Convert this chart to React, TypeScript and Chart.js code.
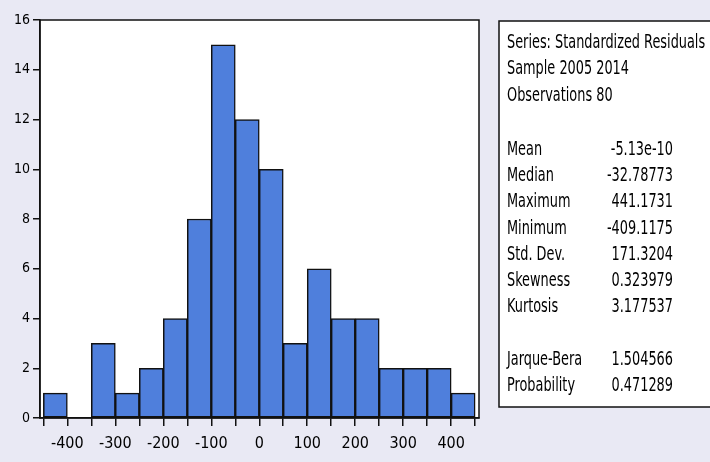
import React, { useEffect, useRef } from "react";
import { Chart, registerables } from "chart.js";

Chart.register(...registerables);

// Histogram bins (lower edges, width 50) and counts
const binLower = [-450, -400, -350, -300, -250, -200, -150, -100, -50, 0, 50, 100, 150, 200, 250, 300, 350, 400];
const binWidth = 50;
const counts = [1, 0, 3, 1, 2, 4, 8, 15, 12, 10, 3, 6, 4, 4, 2, 2, 2, 1];
const xTickEdges = [-450, -400, -350, -300, -250, -200, -150, -100, -50, 0, 50, 100, 150, 200, 250, 300, 350, 400, 450];
const yTicks = [0, 2, 4, 6, 8, 10, 12, 14, 16];

// Stats panel
const headerLines = ["Series: Standardized Residuals", "Sample 2005 2014", "Observations 80"];
const statNames = ["Mean", "Median", "Maximum", "Minimum", "Std. Dev.", "Skewness", "Kurtosis"];
const statValues = ["-5.13e-10", "-32.78773", "441.1731", "-409.1175", "171.3204", "0.323979", "3.177537"];
const testNames = ["Jarque-Bera", "Probability"];
const testValues = ["1.504566", "0.471289"];

const FONT_FAMILY = '"Liberation Sans Narrow", "Arial Narrow", "DejaVu Sans Condensed", sans-serif';
const BG = "#e9e9f4";

const panelPlugin = {
  id: "panelPlugin",
  beforeDraw(chart: any) {
    const { ctx, chartArea } = chart;
    ctx.save();
    ctx.fillStyle = BG;
    ctx.fillRect(0, 0, chart.width, chart.height);
    ctx.fillStyle = "#ffffff";
    ctx.fillRect(chartArea.left, chartArea.top, chartArea.right - chartArea.left, chartArea.bottom - chartArea.top);
    ctx.restore();
  },
  afterDraw(chart: any) {
    const { ctx, chartArea } = chart;
    ctx.save();
    // plot frame
    ctx.strokeStyle = "#111";
    ctx.lineWidth = 1.5;
    ctx.strokeRect(chartArea.left, chartArea.top, chartArea.right - chartArea.left, chartArea.bottom - chartArea.top);

    // stats panel
    const px = 499;
    const py = 21;
    const pw = 230;
    const ph = 386;
    ctx.fillStyle = "#ffffff";
    ctx.fillRect(px, py, pw, ph);
    ctx.strokeRect(px, py, pw, ph);

    ctx.fillStyle = "#000";
    ctx.font = "20px " + FONT_FAMILY;
    ctx.textBaseline = "middle";
    // horizontal compression to match the narrow reference type
    const refW = ctx.measureText("Sample 2005 2014").width;
    const sx = 122 / refW;

    const drawText = (t: string, x: number, y: number, align: "left" | "right") => {
      ctx.save();
      ctx.translate(x, y);
      ctx.scale(sx, 1);
      ctx.textAlign = align;
      ctx.fillText(t, 0, 0);
      ctx.restore();
    };

    const labelX = 507;
    const valueRight = 673;
    const lh = 26.2;
    headerLines.forEach((t, i) => drawText(t, labelX, 43 + i * lh, "left"));
    statNames.forEach((t, i) => {
      drawText(t, labelX, 150 + i * 26.1, "left");
      drawText(statValues[i], valueRight, 150 + i * 26.1, "right");
    });
    testNames.forEach((t, i) => {
      drawText(t, labelX, 360 + i * 25.5, "left");
      drawText(testValues[i], valueRight, 360 + i * 25.5, "right");
    });
    ctx.restore();
  },
};

export default function App() {
  const canvasRef = useRef<HTMLCanvasElement | null>(null);

  useEffect(() => {
    if (!canvasRef.current) return;
    const data = binLower.map((lo, i) => ({ x: lo + binWidth / 2, y: counts[i] }));
    const chart = new Chart(canvasRef.current, {
      type: "bar",
      data: {
        datasets: [
          {
            data: data as any,
            backgroundColor: "#4f7fdc",
            borderColor: "#111",
            borderWidth: 1.5,
            borderSkipped: false,
            barThickness: "flex",
            barPercentage: 1,
            categoryPercentage: 1,
          },
        ],
      },
      options: {
        animation: false,
        responsive: false,
        maintainAspectRatio: false,
        layout: { padding: { left: 0, right: 231, top: 20, bottom: 0 } },
        plugins: { legend: { display: false }, tooltip: { enabled: false } },
        scales: {
          x: {
            type: "linear",
            offset: false,
            min: -457,
            max: 458,
            afterBuildTicks: (axis: any) => {
              axis.ticks = xTickEdges.map((v) => ({ value: v }));
            },
            afterFit: (axis: any) => {
              axis.height = 44;
            },
            ticks: {
              autoSkip: false,
              maxRotation: 0,
              padding: 8,
              color: "#000",
              font: { family: FONT_FAMILY, size: 16 },
              callback: (v: any) => (Number(v) % 100 === 0 ? String(v) : ""),
            },
            grid: { drawOnChartArea: false, drawTicks: true, tickLength: 8, color: "#111", lineWidth: 1.5, offset: false },
            border: { display: true, color: "#111", width: 1.5 },
          },
          y: {
            min: 0,
            max: 16,
            afterBuildTicks: (axis: any) => {
              axis.ticks = yTicks.map((v) => ({ value: v }));
            },
            afterFit: (axis: any) => {
              axis.width = 40;
            },
            ticks: {
              padding: 3,
              color: "#000",
              font: { family: FONT_FAMILY, size: 14 },
            },
            grid: { drawOnChartArea: false, drawTicks: true, tickLength: 7, color: "#111", lineWidth: 1.5 },
            border: { display: true, color: "#111", width: 1.5 },
          },
        },
      },
      plugins: [panelPlugin],
    });
    return () => chart.destroy();
  }, []);

  return (
    <div style={{ position: "fixed", left: 0, top: 0, width: 710, height: 462, background: BG }}>
      <canvas ref={canvasRef} width={710} height={462} style={{ display: "block", width: 710, height: 462 }} />
    </div>
  );
}
